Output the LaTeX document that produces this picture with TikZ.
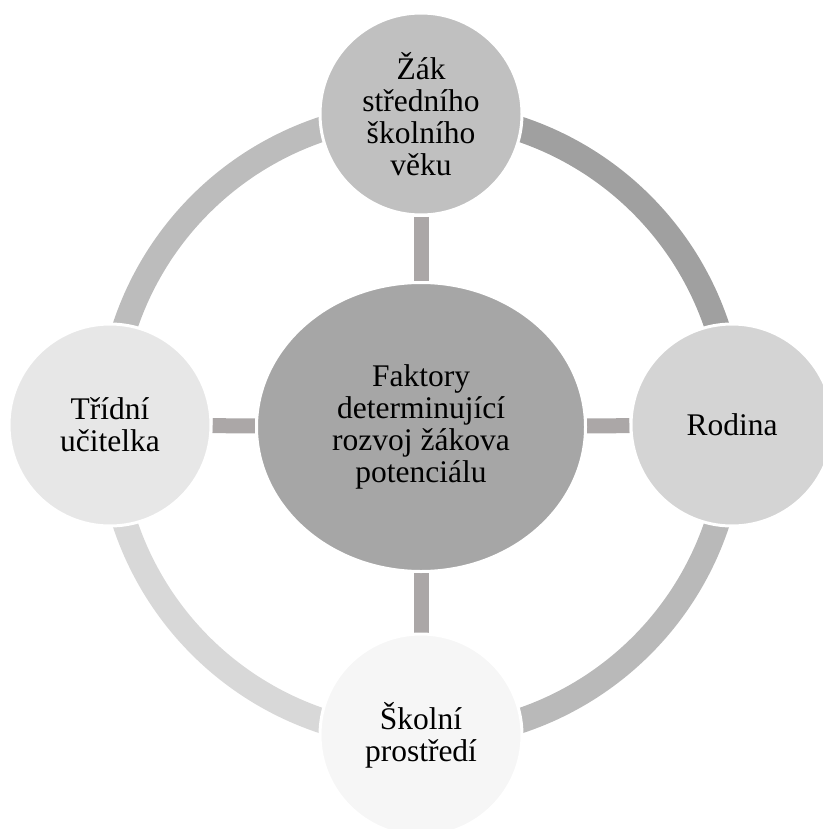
\documentclass[tikz,border=0pt]{standalone}
\usepackage{fontspec}
\setmainfont{Liberation Serif}
\usetikzlibrary{shapes.geometric,backgrounds}
\definecolor{cenfill}{HTML}{A6A6A6}
\definecolor{topfill}{HTML}{C0C0C0}
\definecolor{rightfill}{HTML}{D4D4D4}
\definecolor{bottomfill}{HTML}{F6F6F6}
\definecolor{leftfill}{HTML}{E7E7E7}
\definecolor{barcol}{HTML}{ABA7A7}
\definecolor{arcTR}{HTML}{A0A0A0}
\definecolor{arcTL}{HTML}{BCBCBC}
\definecolor{arcBR}{HTML}{B9B9B9}
\definecolor{arcBL}{HTML}{D8D8D8}
\tikzset{
  txt/.style={font=\fontsize{31.5}{32}\selectfont, align=center, text=black},
  satellite/.style={circle, minimum size=202pt, inner sep=0pt, draw=white, line width=3pt, txt},
  hub/.style={ellipse, minimum width=329pt, minimum height=289pt, inner sep=0pt, draw=white, line width=3pt, fill=cenfill, txt},
  spoke/.style={line width=15pt, color=barcol},
  ringarc/.style={line width=25pt}
}
\begin{document}
\begin{tikzpicture}[x=1pt,y=-1pt]
\useasboundingbox (0,0) rectangle (822,829);
\node[hub] (cen) at (421,427) {Faktory\\determinující\\rozvoj žákova\\potenciálu};
\node[satellite, fill=topfill] (nTop) at (421,114) {Žák\\středního\\školního\\věku};
\node[satellite, fill=rightfill] (nRight) at (732,425) {Rodina};
\node[satellite, fill=bottomfill] (nBottom) at (421,735) {Školní\\prostředí};
\node[satellite, fill=leftfill] (nLeft) at (110,425) {Třídní\\učitelka};
\begin{pgfonlayer}{background}
  \draw[ringarc, arcTR] plot[domain=-90:0, samples=80] ({421+312*cos(\x)},{425+312*sin(\x)});
  \draw[ringarc, arcBR] plot[domain=0:90, samples=80] ({421+312*cos(\x)},{425+312*sin(\x)});
  \draw[ringarc, arcBL] plot[domain=90:180, samples=80] ({421+312*cos(\x)},{425+312*sin(\x)});
  \draw[ringarc, arcTL] plot[domain=180:270, samples=80] ({421+312*cos(\x)},{425+312*sin(\x)});
  \draw[spoke] (nTop) -- (cen);
  \draw[spoke] (nRight) -- (cen);
  \draw[spoke] (nBottom) -- (cen);
  \draw[spoke] (nLeft) -- (cen);
\end{pgfonlayer}
\end{tikzpicture}
\end{document}
